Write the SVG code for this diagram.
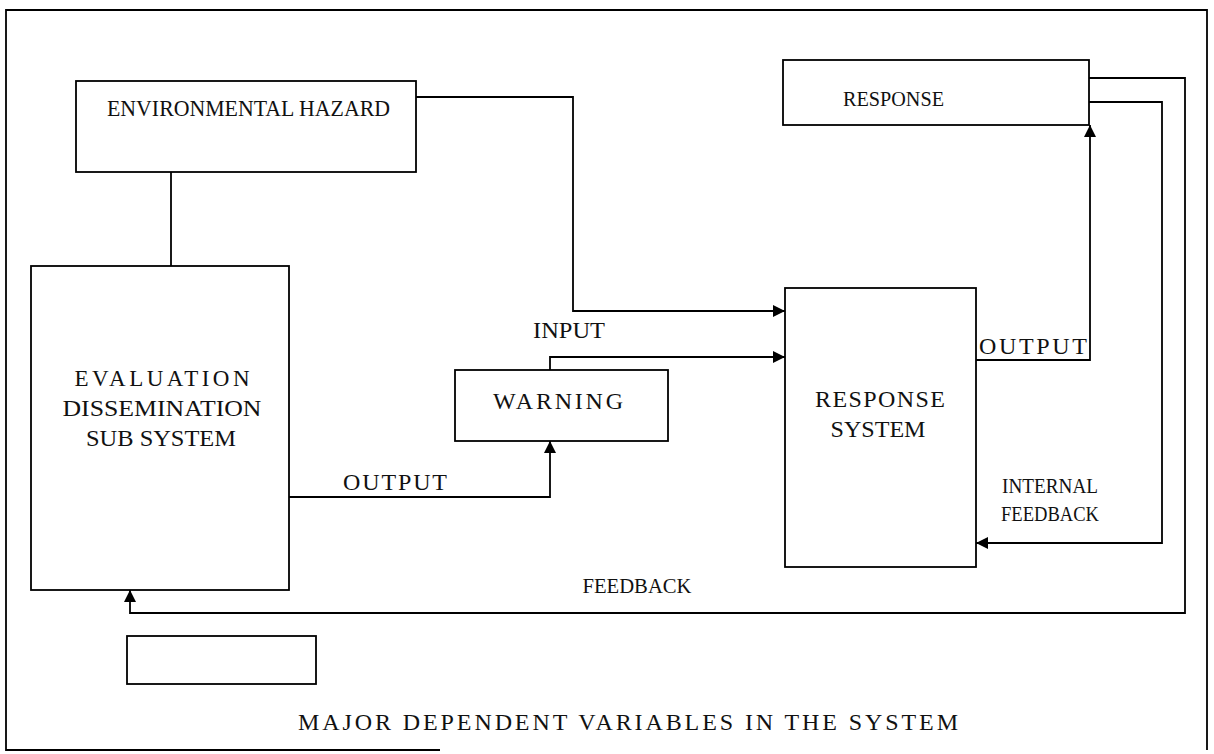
<svg xmlns="http://www.w3.org/2000/svg" width="1214" height="754" viewBox="0 0 1214 754">
<style>
.box{fill:none;stroke:#000;stroke-width:1.8}
.ln{fill:none;stroke:#000;stroke-width:1.8}
text{font-family:"Liberation Serif","Times New Roman",serif;font-size:23px;fill:#111}
.c{text-anchor:middle}
.s21{font-size:21px}
.s24{font-size:24px}
</style>
<defs>
<marker id="arr" viewBox="0 0 12 12" refX="12" refY="6" markerWidth="12" markerHeight="12" markerUnits="userSpaceOnUse" orient="auto">
<path d="M0,0 L12,6 L0,12 Z" fill="#000"/>
</marker>
</defs>
<rect width="1214" height="754" fill="#fff"/>
<g id="frame">
<path class="ln" d="M440,750 L6,750 L6,10 L1207,10 L1207,750"/>
</g>
<g id="connectors">
<path class="ln" d="M171,172 L171,266"/>
<path class="ln" d="M416,97 L573,97 L573,311 L785,311" marker-end="url(#arr)"/>
<path class="ln" d="M550,370 L550,357 L785,357" marker-end="url(#arr)"/>
<path class="ln" d="M289,497 L550,497 L550,441" marker-end="url(#arr)"/>
<path class="ln" d="M976,360 L1090,360 L1090,125" marker-end="url(#arr)"/>
<path class="ln" d="M1089,102 L1162,102 L1162,543 L976,543" marker-end="url(#arr)"/>
<path class="ln" d="M1089,78 L1185,78 L1185,613 L130,613 L130,590" marker-end="url(#arr)"/>
</g>
<g id="env-hazard">
<rect class="box" x="76" y="81" width="340" height="91"/>
<text x="107" y="116" textLength="283" lengthAdjust="spacingAndGlyphs">ENVIRONMENTAL HAZARD</text>
</g>
<g id="response">
<rect class="box" x="783" y="60" width="306" height="65"/>
<text x="843" y="106" class="s21" textLength="101" lengthAdjust="spacingAndGlyphs">RESPONSE</text>
</g>
<g id="evaluation">
<rect class="box" x="31" y="266" width="258" height="324"/>
<text x="162" y="386" class="c" textLength="175" lengthAdjust="spacing">EVALUATION</text>
<text x="162" y="416" class="c" textLength="199" lengthAdjust="spacingAndGlyphs">DISSEMINATION</text>
<text x="161" y="446" class="c" textLength="150" lengthAdjust="spacingAndGlyphs">SUB SYSTEM</text>
</g>
<g id="warning">
<rect class="box" x="455" y="370" width="213" height="71"/>
<text x="558" y="409" class="c s24" textLength="130" lengthAdjust="spacing">WARNING</text>
</g>
<g id="response-system">
<rect class="box" x="785" y="288" width="191" height="279"/>
<text x="880" y="407" class="c s24" textLength="130" lengthAdjust="spacing">RESPONSE</text>
<text x="878" y="437" class="c s24" textLength="95" lengthAdjust="spacingAndGlyphs">SYSTEM</text>
</g>
<g id="legend">
<rect class="box" x="127" y="636" width="189" height="48"/>
</g>
<g id="labels">
<text x="569" y="338" class="c" textLength="72" lengthAdjust="spacingAndGlyphs">INPUT</text>
<text x="395" y="490" class="c s24" textLength="104" lengthAdjust="spacing">OUTPUT</text>
<text x="1033" y="354" class="c s24" textLength="108" lengthAdjust="spacing">OUTPUT</text>
<text x="1050" y="493" class="c s21" textLength="96" lengthAdjust="spacingAndGlyphs">INTERNAL</text>
<text x="1050" y="521" class="c s21" textLength="98" lengthAdjust="spacingAndGlyphs">FEEDBACK</text>
<text x="637" y="593" class="c s21" textLength="109" lengthAdjust="spacingAndGlyphs">FEEDBACK</text>
<text x="628" y="730" class="c s24" textLength="660" lengthAdjust="spacing">MAJOR DEPENDENT VARIABLES IN THE SYSTEM</text>
</g>
</svg>
